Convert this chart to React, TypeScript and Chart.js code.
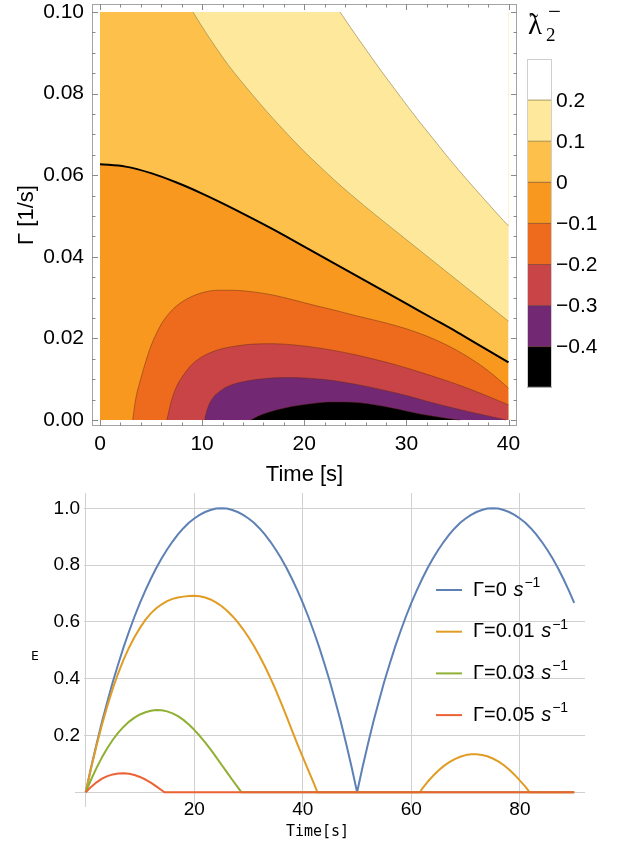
import React, { useEffect, useRef } from "react";
import { Chart, registerables } from "chart.js";

Chart.register(...registerables);

const range = (a: number, b: number) => Array.from({ length: b - a + 1 }, (_, i) => a + i);

// ================= Top panel: contour plot of λ̃2⁻ (Time [s] vs Γ [1/s]) =================
const LEVEL_LABELS = ["0.2", "0.1", "0", "−0.1", "−0.2", "−0.3", "−0.4"];
// band colours from the top of the colour bar (>0.2) to the bottom (<-0.4)
const BAND_COLORS = ["#ffffff", "#fee89b", "#fdc14b", "#f8981e", "#ee6a1d", "#c84446", "#732873", "#000000"];

const TOP_X_TICKS = [0, 10, 20, 30, 40];
const TOP_Y_TICKS = [0, 0.02, 0.04, 0.06, 0.08, 0.1];

// contour λ = 0.2
const C_P2_T = [23.5, 24.5, 26.1, 27.7, 29.4, 31.0, 32.6, 34.2, 35.9, 37.7, 39.5, 40];
const C_P2_G = [0.1, 0.0963, 0.0906, 0.085, 0.0793, 0.074, 0.069, 0.064, 0.059, 0.0539, 0.0489, 0.0476];
// contour λ = 0.1
const C_P1_T = [9.1, 10.2, 11.4, 12.5, 13.7, 15, 16.3, 17.6, 18.9, 20.2, 21.5, 23, 24.5, 27.1, 29.4, 31.9, 34.3, 37.1, 40];
const C_P1_G = [0.1, 0.0956, 0.0911, 0.0872, 0.0834, 0.0795, 0.0757, 0.0721, 0.0686, 0.0653, 0.0622, 0.0587, 0.0554, 0.05, 0.0454, 0.0404, 0.0356, 0.03, 0.0242];
// contour λ = 0
const C_0_T = [0, 2.5, 5, 7.5, 10, 12.5, 15, 17.5, 20, 22.5, 25, 27.5, 30, 32.5, 35, 37.5, 40];
const C_0_G = [0.0627, 0.0621, 0.0605, 0.0582, 0.0555, 0.0525, 0.0493, 0.046, 0.0425, 0.039, 0.0355, 0.032, 0.0285, 0.025, 0.0215, 0.0178, 0.0141];
// contour λ = -0.1
const C_M1_T = [3.2, 3.5, 4, 4.5, 5, 6, 7, 8, 9, 10, 11.5, 13, 15, 17, 19, 21, 23, 25, 27, 29, 31, 33, 35, 37, 38.5, 40];
const C_M1_G = [0, 0.0052, 0.0102, 0.0145, 0.0182, 0.0235, 0.0268, 0.0289, 0.0303, 0.0312, 0.0318, 0.0318, 0.0314, 0.0306, 0.0294, 0.0281, 0.0269, 0.0256, 0.0244, 0.0231, 0.0215, 0.0195, 0.017, 0.0139, 0.0111, 0.0078];
// contour λ = -0.2
const C_M2_T = [6.55, 7, 7.5, 8, 9, 10, 11, 12, 13.5, 15, 17, 19, 21, 23, 25, 27, 29, 31, 33, 35, 37, 38.5, 40];
const C_M2_G = [0, 0.0048, 0.0082, 0.0104, 0.0136, 0.0155, 0.0167, 0.0175, 0.0182, 0.0186, 0.0187, 0.0184, 0.0178, 0.017, 0.016, 0.0148, 0.0135, 0.012, 0.0104, 0.0087, 0.0068, 0.0053, 0.0037];
// contour λ = -0.3
const C_M3_T = [10.24, 10.5, 11, 12, 13, 14.5, 16, 18, 20, 22, 24, 26, 28, 30, 32, 34, 36, 38, 39.76];
const C_M3_G = [0, 0.0026, 0.0052, 0.0075, 0.0087, 0.0096, 0.0101, 0.0104, 0.0103, 0.0099, 0.0092, 0.0083, 0.0072, 0.006, 0.0046, 0.0033, 0.0021, 0.001, 0];
// contour λ = -0.4
const C_M4_T = [14.76, 15.5, 16.5, 18, 19.5, 21, 22.5, 24, 25.5, 27, 28.5, 30, 31.5, 33, 34.2, 35.24];
const C_M4_G = [0, 0.001, 0.0019, 0.0029, 0.0036, 0.0041, 0.0044, 0.0044, 0.0042, 0.0037, 0.003, 0.0022, 0.0014, 0.0008, 0.0003, 0];

// ================= Bottom panel: E vs Time =================
const SERIES_LABELS = ["Γ=0", "Γ=0.01", "Γ=0.03", "Γ=0.05"];
const SERIES_COLORS = ["#5e81b5", "#e19c24", "#8fb032", "#eb6235"];
const BOT_X_TICKS = [0, 20, 40, 60, 80];
const BOT_Y_TICKS = [0, 0.2, 0.4, 0.6, 0.8, 1.0];

const T_G0 = range(0, 90);
const E_G0 = [
  0, 0.088, 0.17, 0.248, 0.32, 0.389, 0.452, 0.512, 0.567, 0.619, 0.667, 0.711, 0.752, 0.79, 0.824, 0.855, 0.883, 0.908, 0.93, 0.949, 0.964, 0.977, 0.987, 0.994, 0.999, 1.0,
  0.999, 0.994, 0.987, 0.977, 0.964, 0.949, 0.93, 0.908, 0.883, 0.855, 0.824, 0.79, 0.752, 0.711, 0.667, 0.619, 0.567, 0.512, 0.452, 0.389, 0.32, 0.248, 0.17, 0.088, 0,
  0.088, 0.17, 0.248, 0.32, 0.389, 0.452, 0.512, 0.567, 0.619, 0.667, 0.711, 0.752, 0.79, 0.824, 0.855, 0.883, 0.908, 0.93, 0.949, 0.964, 0.977, 0.987, 0.994, 0.999, 1.0,
  0.999, 0.994, 0.987, 0.977, 0.964, 0.949, 0.93, 0.908, 0.883, 0.855, 0.824, 0.79, 0.752, 0.711, 0.667,
];
const T_G001 = [...range(0, 42), 42.7, 61.6, ...range(62, 81), 81.8, 90];
const E_G001 = [
  0, 0.085, 0.165, 0.238, 0.305, 0.366, 0.42, 0.468, 0.51, 0.547, 0.579, 0.607, 0.63, 0.648, 0.662, 0.673, 0.681, 0.686, 0.689, 0.691, 0.692,
  0.69, 0.686, 0.679, 0.669, 0.656, 0.64, 0.621, 0.599, 0.574, 0.546, 0.515, 0.481, 0.444, 0.404, 0.361, 0.315, 0.267, 0.218, 0.17, 0.124, 0.078, 0.033,
  0, 0,
  0.013, 0.037, 0.058, 0.077, 0.093, 0.106, 0.117, 0.125, 0.131, 0.134, 0.134, 0.131, 0.127, 0.119, 0.109, 0.096, 0.08, 0.062, 0.041, 0.02,
  0, 0,
];
const T_G003 = [...range(0, 28), 28.7, 90];
const E_G003 = [
  0, 0.045, 0.086, 0.123, 0.156, 0.185, 0.21, 0.231, 0.249, 0.263, 0.274, 0.282, 0.287, 0.29, 0.289, 0.285, 0.278, 0.268, 0.255, 0.239, 0.22, 0.199, 0.176, 0.151, 0.125, 0.098, 0.071, 0.044, 0.018,
  0, 0,
];
const T_G005 = [...range(0, 14), 14.5, 90];
const E_G005 = [0, 0.019, 0.035, 0.048, 0.057, 0.063, 0.066, 0.067, 0.065, 0.061, 0.054, 0.045, 0.034, 0.021, 0.007, 0, 0];

const pts = (xs: number[], ys: number[]) => xs.map((x, i) => ({ x, y: ys[i] }));

const SANS = '"Liberation Sans", Arial, sans-serif';
const SERIF = '"Liberation Serif", "DejaVu Serif", serif';
const MONO = '"DejaVu Sans Mono", monospace';
const GRID = "#d0d0d0";

const noPad = (s: any) => {
  s.paddingTop = 0;
  s.paddingBottom = 0;
  s.paddingLeft = 0;
  s.paddingRight = 0;
};

// ---------- top decorations: frame with inward ticks, colour bar, titles ----------
const topDecor = {
  id: "topDecor",
  afterDraw(chart: any) {
    const { ctx, chartArea: a, scales } = chart;
    const xs = scales.x;
    const ys = scales.y;
    ctx.save();
    ctx.strokeStyle = "#a4a4a4";
    ctx.lineWidth = 1;
    ctx.strokeRect(a.left + 0.5, a.top + 0.5, a.right - a.left - 1, a.bottom - a.top - 1);
    const line = (x1: number, y1: number, x2: number, y2: number) => {
      ctx.beginPath();
      ctx.moveTo(x1, y1);
      ctx.lineTo(x2, y2);
      ctx.stroke();
    };
    ctx.strokeStyle = "#8a8a8a";
    for (const v of range(0, 20).map((i) => i * 2)) {
      const px = Math.round(xs.getPixelForValue(v)) + 0.5;
      const L = TOP_X_TICKS.includes(v) ? 6 : 3.5;
      line(px, a.bottom, px, a.bottom - L);
      line(px, a.top, px, a.top + L);
    }
    for (const i of range(0, 20)) {
      const v = i * 0.005;
      const py = Math.round(ys.getPixelForValue(v)) + 0.5;
      const L = i % 4 === 0 ? 6 : 3.5;
      line(a.left, py, a.left + L, py);
      line(a.right, py, a.right - L, py);
    }

    // colour bar
    const cbX = 527, cbW = 25, cbTop = 59, bandH = 41.1;
    BAND_COLORS.forEach((c, i) => {
      ctx.fillStyle = c;
      ctx.fillRect(cbX, cbTop + i * bandH, cbW, bandH);
    });
    LEVEL_LABELS.forEach((lab, i) => {
      const yy = cbTop + (i + 1) * bandH;
      ctx.strokeStyle = i < 2 ? "rgba(150,130,70,0.8)" : "rgba(90,40,20,0.55)";
      line(cbX, yy, cbX + cbW, yy);
      ctx.fillStyle = "#000";
      ctx.font = `21px ${SANS}`;
      ctx.textAlign = "left";
      ctx.textBaseline = "middle";
      ctx.fillText(lab, 556, yy + 1);
    });
    ctx.strokeStyle = "#cfcfcf";
    ctx.strokeRect(cbX + 0.5, cbTop + 0.5, cbW - 1, bandH * 8 - 1);

    // colour bar title  λ̃₂⁻
    ctx.fillStyle = "#000";
    ctx.textAlign = "left";
    ctx.textBaseline = "alphabetic";
    ctx.font = `29px ${SERIF}`;
    ctx.fillText("λ", 528, 34);
    ctx.font = `24px ${SERIF}`;
    ctx.fillText("˜", 530, 30);
    ctx.font = `19px ${SERIF}`;
    ctx.fillText("2", 546, 41);
    ctx.font = `23px ${SERIF}`;
    ctx.fillText("−", 548, 19);

    // axis titles
    ctx.font = `22px ${SANS}`;
    ctx.textAlign = "center";
    ctx.textBaseline = "middle";
    ctx.fillText("Time [s]", (a.left + a.right) / 2, 475);
    ctx.translate(27, (a.top + a.bottom) / 2);
    ctx.rotate(-Math.PI / 2);
    ctx.fillText("Γ [1/s]", 0, 0);
    ctx.restore();
  },
};

// ---------- bottom decorations: axis extension, x tick labels, legend, titles ----------
const botDecor = {
  id: "botDecor",
  beforeDatasetsDraw(chart: any) {
    const { ctx, chartArea: a, scales } = chart;
    const py = Math.round(scales.y.getPixelForValue(0)) + 0.5;
    ctx.save();
    ctx.strokeStyle = GRID;
    ctx.lineWidth = 1;
    ctx.beginPath();
    ctx.moveTo(75, py);
    ctx.lineTo(a.left, py);
    ctx.stroke();
    ctx.restore();
  },
  afterDraw(chart: any) {
    const { ctx, scales } = chart;
    ctx.save();
    // x tick labels sit next to the axis line (Mathematica style)
    ctx.fillStyle = "#000";
    ctx.font = `19px ${SANS}`;
    ctx.textAlign = "center";
    ctx.textBaseline = "middle";
    BOT_X_TICKS.forEach((v) => {
      if (v === 0) return;
      ctx.fillText(String(v), scales.x.getPixelForValue(v), 340);
    });
    SERIES_LABELS.forEach((lab, i) => {
      const y = 120 + i * 41.7;
      ctx.strokeStyle = SERIES_COLORS[i];
      ctx.lineWidth = 2;
      ctx.beginPath();
      ctx.moveTo(436, y);
      ctx.lineTo(462, y);
      ctx.stroke();
      ctx.fillStyle = "#000";
      ctx.textAlign = "left";
      ctx.textBaseline = "middle";
      ctx.font = `20px ${SANS}`;
      const t1 = lab + " ";
      ctx.fillText(t1, 473, y);
      let x = 473 + ctx.measureText(t1).width + 1;
      ctx.font = `italic 20px ${SANS}`;
      ctx.fillText("s", x, y);
      x += ctx.measureText("s").width + 1;
      ctx.font = `14px ${SANS}`;
      ctx.fillText("−1", x, y - 7);
    });
    ctx.font = `15px ${MONO}`;
    ctx.textAlign = "center";
    ctx.textBaseline = "middle";
    ctx.fillText("Time[s]", 317.5, 362);
    ctx.font = `13px ${MONO}`;
    ctx.fillText("E", 35, 187);
    ctx.restore();
  },
};

function topConfig(): any {
  const thin = "rgba(90,40,20,0.55)";
  const tan = "rgba(150,130,70,0.8)";
  const base = { pointRadius: 0, cubicInterpolationMode: "monotone", borderWidth: 0.8 };
  return {
    type: "line",
    data: {
      datasets: [
        { ...base, data: pts([0, 40], [0.1, 0.1]), backgroundColor: BAND_COLORS[2], borderColor: "rgba(0,0,0,0)", fill: { value: 0 }, order: 8 },
        { ...base, data: pts(C_P1_T, C_P1_G), backgroundColor: BAND_COLORS[1], borderColor: tan, fill: { value: 0.1 }, order: 7 },
        { ...base, data: pts(C_P2_T, C_P2_G), backgroundColor: BAND_COLORS[0], borderColor: tan, fill: { value: 0.1 }, order: 6 },
        { ...base, data: pts(C_0_T, C_0_G), backgroundColor: BAND_COLORS[3], borderColor: "#000", borderWidth: 2, fill: { value: 0 }, order: 5 },
        { ...base, data: pts(C_M1_T, C_M1_G), backgroundColor: BAND_COLORS[4], borderColor: thin, fill: { value: 0 }, order: 4 },
        { ...base, data: pts(C_M2_T, C_M2_G), backgroundColor: BAND_COLORS[5], borderColor: thin, fill: { value: 0 }, order: 3 },
        { ...base, data: pts(C_M3_T, C_M3_G), backgroundColor: BAND_COLORS[6], borderColor: thin, fill: { value: 0 }, order: 2 },
        { ...base, data: pts(C_M4_T, C_M4_G), backgroundColor: BAND_COLORS[7], borderColor: thin, fill: { value: 0 }, order: 1 },
      ],
    },
    options: {
      responsive: false,
      animation: false,
      events: [],
      layout: { padding: { left: 0, top: 4, right: 112, bottom: 0 } },
      plugins: { legend: { display: false }, tooltip: { enabled: false } },
      scales: {
        x: {
          type: "linear",
          min: -0.783,
          max: 40.832,
          afterBuildTicks: (s: any) => { s.ticks = TOP_X_TICKS.map((v) => ({ value: v })); },
          afterFit: (s: any) => { s.height = 74; noPad(s); },
          grid: { display: false, drawTicks: false },
          border: { display: false },
          ticks: { color: "#000", font: { family: SANS, size: 21 }, padding: 6, maxRotation: 0, autoSkip: false, callback: (v: any) => String(v) },
        },
        y: {
          type: "linear",
          min: -0.00147,
          max: 0.10196,
          afterBuildTicks: (s: any) => { s.ticks = TOP_Y_TICKS.map((v) => ({ value: v })); },
          afterFit: (s: any) => { s.width = 92; noPad(s); },
          grid: { display: false, drawTicks: false },
          border: { display: false },
          ticks: { color: "#000", font: { family: SANS, size: 21 }, padding: 8, autoSkip: false, callback: (v: any) => Number(v).toFixed(2) },
        },
      },
    },
    plugins: [topDecor],
  };
}

function bottomConfig(): any {
  const series = [
    { t: T_G0, e: E_G0 },
    { t: T_G001, e: E_G001 },
    { t: T_G003, e: E_G003 },
    { t: T_G005, e: E_G005 },
  ];
  return {
    type: "line",
    data: {
      datasets: series.map((s, i) => ({
        label: SERIES_LABELS[i],
        data: pts(s.t, s.e),
        borderColor: SERIES_COLORS[i],
        borderWidth: 2,
        pointRadius: 0,
        tension: 0,
        fill: false,
        borderJoinStyle: "round",
        order: 4 - i,
      })),
    },
    options: {
      responsive: false,
      animation: false,
      events: [],
      layout: { padding: { left: 0, top: 23, right: 44, bottom: 0 } },
      plugins: { legend: { display: false }, tooltip: { enabled: false } },
      scales: {
        x: {
          type: "linear",
          min: -0.313,
          max: 91.99,
          afterBuildTicks: (s: any) => { s.ticks = BOT_X_TICKS.map((v) => ({ value: v })); },
          afterFit: (s: any) => { s.height = 41; noPad(s); },
          grid: { color: GRID, lineWidth: 1, drawTicks: false },
          border: { display: false },
          ticks: { display: false },
        },
        y: {
          type: "linear",
          min: -0.0518,
          max: 1.0539,
          afterBuildTicks: (s: any) => { s.ticks = BOT_Y_TICKS.map((v) => ({ value: v })); },
          afterFit: (s: any) => { s.width = 84; noPad(s); },
          grid: { color: GRID, lineWidth: 1, drawTicks: false },
          border: { display: false },
          ticks: { color: "#000", font: { family: SANS, size: 19 }, padding: 4, autoSkip: false, callback: (v: any) => (v === 0 ? "" : Number(v).toFixed(1)) },
        },
      },
    },
    plugins: [botDecor],
  };
}

export default function App() {
  const topRef = useRef<HTMLCanvasElement>(null);
  const botRef = useRef<HTMLCanvasElement>(null);
  useEffect(() => {
    const c1 = new Chart(topRef.current as HTMLCanvasElement, topConfig());
    const c2 = new Chart(botRef.current as HTMLCanvasElement, bottomConfig());
    return () => {
      c1.destroy();
      c2.destroy();
    };
  }, []);
  return (
    <div style={{ position: "absolute", left: 0, top: 0, width: 629, height: 848, background: "#fff", overflow: "hidden" }}>
      <canvas ref={botRef} width={629} height={378} style={{ position: "absolute", left: 0, top: 470 }} />
      <canvas ref={topRef} width={629} height={500} style={{ position: "absolute", left: 0, top: 0 }} />
    </div>
  );
}
